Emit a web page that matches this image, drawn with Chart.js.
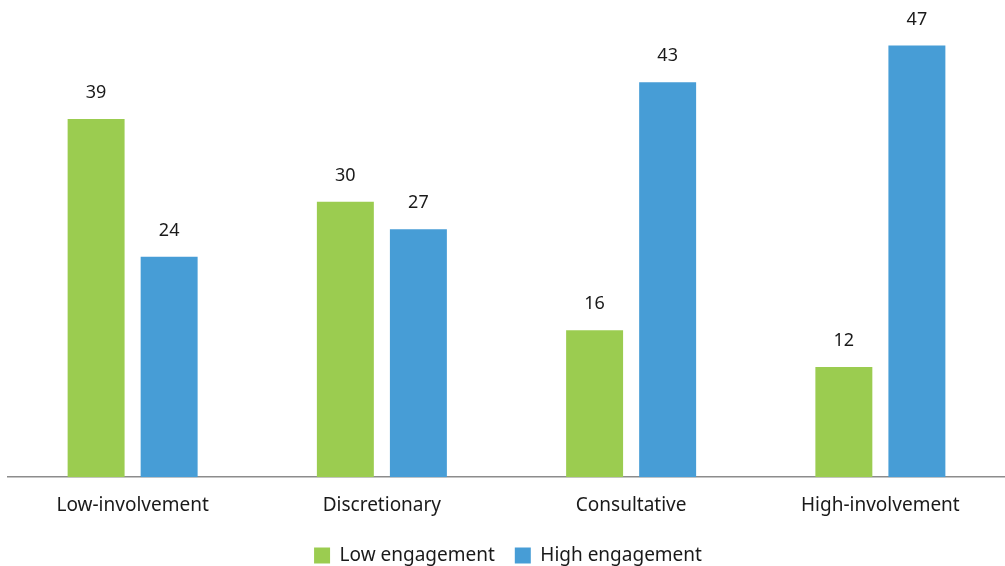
<!DOCTYPE html>
<html>
<head>
<meta charset="utf-8">
<script src="https://cdn.jsdelivr.net/npm/chart.js@4/dist/chart.umd.min.js"></script>
<style>
  html, body { margin: 0; padding: 0; background: #fff; }
  #wrap { width: 1005px; height: 566px; }
</style>
</head>
<body>
<div id="wrap"><canvas id="chart"></canvas></div>
<script>
/* ─── Data ─── */
const categories = ['Low-involvement', 'Discretionary', 'Consultative', 'High-involvement'];
const lowEngagement  = [39, 30, 16, 12];
const highEngagement = [24, 27, 43, 47];

const COLORS = {
  green: '#9bcc50',
  blue:  '#479dd6',
  text:  '#1a1a1a',
  axis:  '#8c8c8c',
};

const FONT = "'Noto Sans', 'Open Sans', sans-serif";

/* ─── value labels above the bars ─── */
const barValueLabels = {
  id: 'barValueLabels',
  afterDatasetsDraw(chart) {
    const ctx = chart.ctx;
    ctx.save();
    ctx.font = `18px ${FONT}`;
    ctx.fillStyle = COLORS.text;
    ctx.textAlign = 'center';
    ctx.textBaseline = 'middle';
    chart.data.datasets.forEach((ds, i) => {
      chart.getDatasetMeta(i).data.forEach((bar, j) => {
        ctx.fillText(ds.data[j], bar.x, bar.y - 26);
      });
    });
    ctx.restore();
  },
};

new Chart(document.getElementById('chart'), {
  type: 'bar',
  data: {
    labels: categories,
    datasets: [
      { label: 'Low engagement',  data: lowEngagement,  backgroundColor: COLORS.green },
      { label: 'High engagement', data: highEngagement, backgroundColor: COLORS.blue },
    ],
  },
  options: {
    responsive: true,
    maintainAspectRatio: false,
    animation: false,
    categoryPercentage: 0.586,
    barPercentage: 0.78,
    layout: { padding: { top: 18, left: 8, right: -3, bottom: -9 } },
    plugins: {
      legend: {
        position: 'bottom',
        labels: {
          color: COLORS.text,
          font: { family: FONT, size: 19 },
          boxWidth: 16,
          boxHeight: 16,
          padding: 20,
        },
      },
      tooltip: { enabled: false },
    },
    scales: {
      x: {
        grid: { display: false },
        border: { display: true, color: COLORS.axis, width: 1.5 },
        ticks: { color: COLORS.text, font: { family: FONT, size: 19 }, padding: 9 },
      },
      y: {
        display: false,
        min: 0,
        max: 50,
      },
    },
  },
  plugins: [barValueLabels],
});
</script>
</body>
</html>
